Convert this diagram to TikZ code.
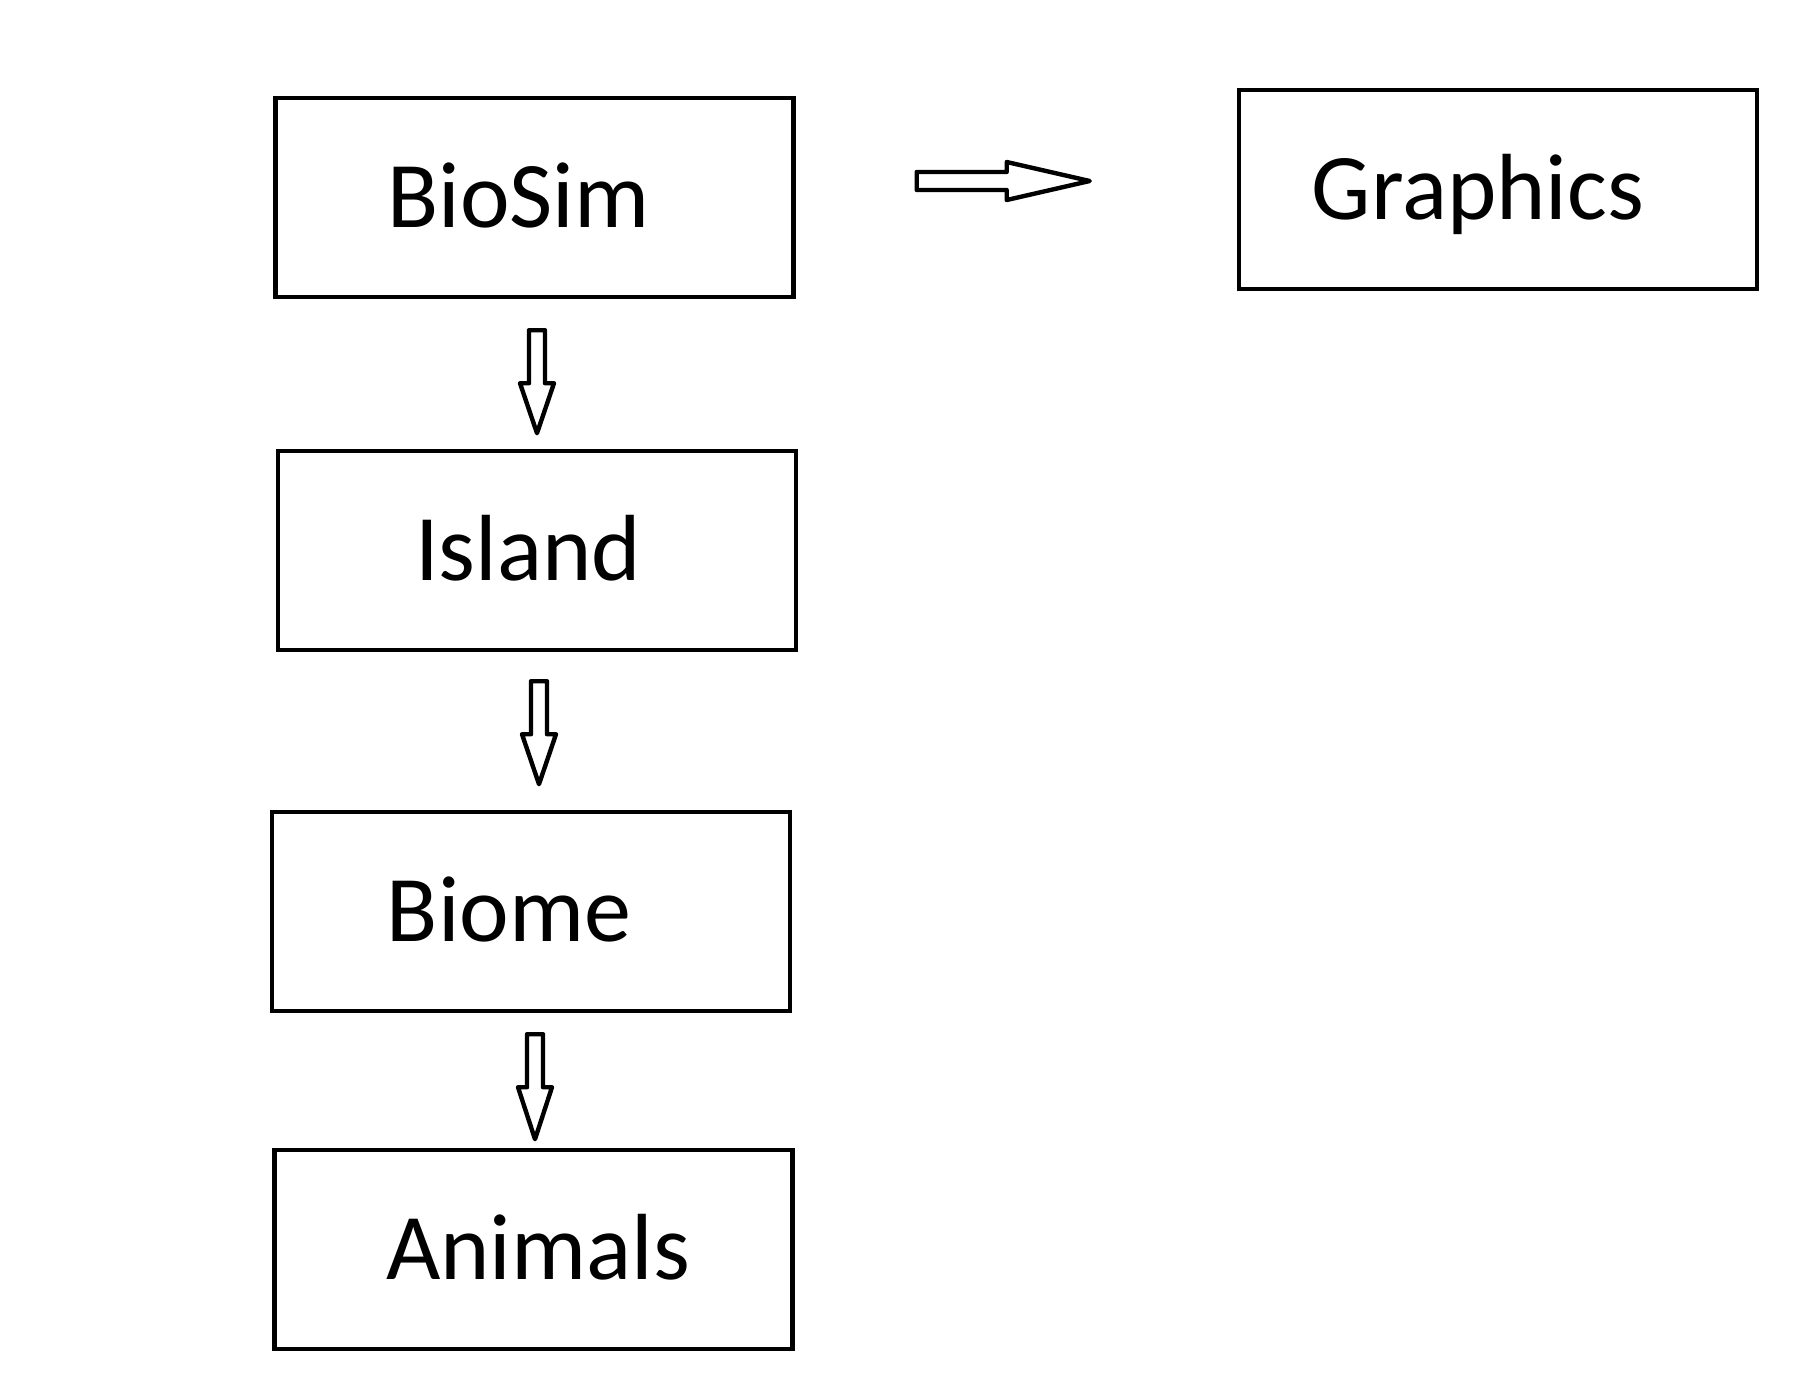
\documentclass[tikz,border=0pt]{standalone}
\usepackage{fontspec}
\setmainfont{Carlito}
\usetikzlibrary{calc}

\begin{document}
\begin{tikzpicture}[x=0.5pt,y=-0.5pt,
	box/.style={draw,line width=2.2pt,minimum width=259pt,minimum height=99.5pt,inner sep=0pt,
		font=\fontsize{47}{56}\selectfont,text height=30.3pt,text depth=0pt},
	blockarrow/.style={draw,line width=2.2pt,line join=round}]
			\useasboundingbox (0,0) rectangle (1811,1388);

%define nodes
			\node[box] (biosim) at (534.5,197.5) {BioSim\kern16pt};
			\node[box] (graphics) at (1498,189.5) {Graphics\kern20pt};
			\node[box] (island) at (537,550.5) {Island\kern9pt};
			\node[box] (biome) at (531,911.5) {Biome\kern22pt};
			\node[box] (animals) at (533.5,1249.5) {\kern4.5pt Animals};

%define arrow start points
			\coordinate (aRechts) at ($(biosim.east)+(121,-16.5)$);
			\coordinate (aEins) at ($(biosim.south)+(2.5,31)$);
			\coordinate (aZwei) at ($(island.south)+(2,29)$);
			\coordinate (aDrei) at ($(biome.south)+(4,21)$);

%draw arrow to graphics
			\draw[blockarrow] (aRechts) ++(0,-9) -- ++(90,0) -- ++(0,-10) -- ++(83,19) -- ++(-83,19) -- ++(0,-10) -- ++(-90,0) -- cycle;

%draw arrows down
			\draw[blockarrow] (aEins) ++(-8,0) -- ++(0,53) -- ++(-9,0) -- ++(17,50) -- ++(17,-50) -- ++(-9,0) -- ++(0,-53) -- cycle;
			\draw[blockarrow] (aZwei) ++(-8,0) -- ++(0,53) -- ++(-9,0) -- ++(17,50) -- ++(17,-50) -- ++(-9,0) -- ++(0,-53) -- cycle;
			\draw[blockarrow] (aDrei) ++(-8,0) -- ++(0,53) -- ++(-9,0) -- ++(17,52) -- ++(17,-52) -- ++(-9,0) -- ++(0,-53) -- cycle;

		\end{tikzpicture}
\end{document}
